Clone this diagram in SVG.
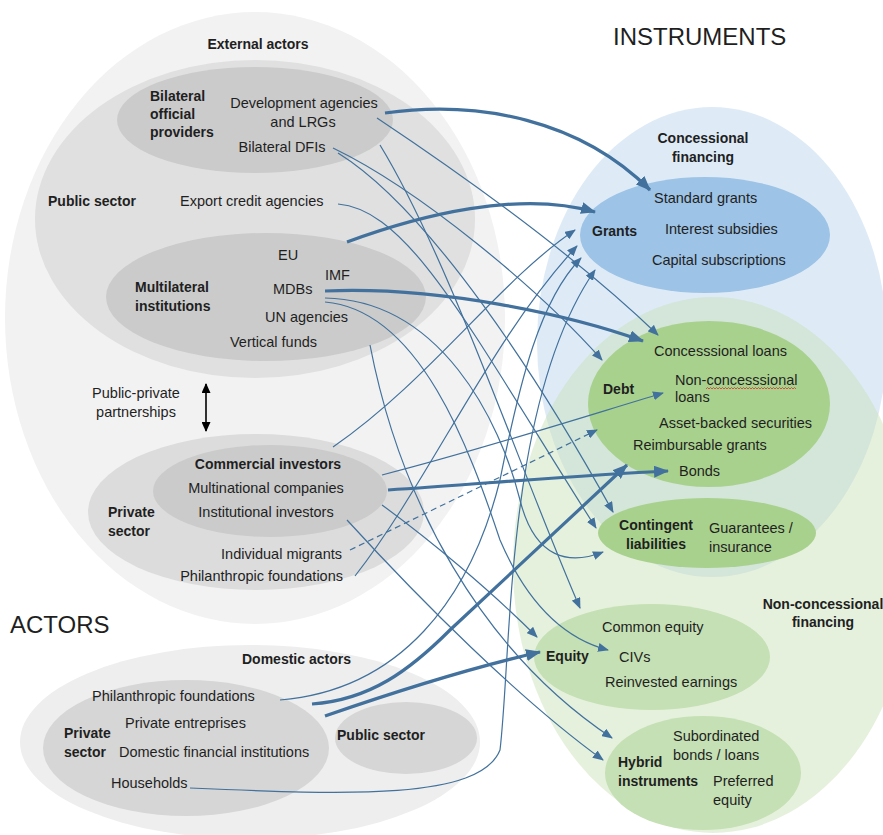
<svg xmlns="http://www.w3.org/2000/svg" width="883" height="835" viewBox="0 0 883 835">
<style>
text{font-family:"Liberation Sans",Arial,sans-serif;font-size:14.5px;fill:#1f1f1f}
.b{font-weight:bold;font-size:14px}
.m{text-anchor:middle}
.e{text-anchor:end}
.big{font-size:24px}
.c{fill:none;stroke:#41719c;stroke-width:1.2;marker-end:url(#a)}
.k{stroke-width:3.2;marker-end:url(#A)}
.d{stroke-dasharray:6 4}
</style>
<defs>
<marker id="a" markerUnits="userSpaceOnUse" markerWidth="11" markerHeight="9" refX="10" refY="4.5" orient="auto"><path d="M0,0 L11,4.5 L0,9 z" fill="#41719c"/></marker>
<marker id="A" markerUnits="userSpaceOnUse" markerWidth="15" markerHeight="12" refX="14" refY="6" orient="auto"><path d="M0,0 L15,6 L0,12 z" fill="#41719c"/></marker>
<marker id="bk" markerUnits="userSpaceOnUse" markerWidth="10" markerHeight="9" refX="9" refY="4.5" orient="auto-start-reverse"><path d="M0,0 L10,4.5 L0,9 z" fill="#000"/></marker>
</defs>
<rect width="883" height="835" fill="#fff"/>

<g id="external-actors">
<ellipse cx="255" cy="318" rx="250" ry="306" fill="#f2f2f2"/>
<text class="b m" x="258" y="49">External actors</text>
</g>
<g id="public-sector-ext">
<ellipse cx="255" cy="219" rx="220" ry="159" fill="#e0e0e0"/>
<text class="b" x="48" y="206">Public sector</text>
<text x="180" y="206">Export credit agencies</text>
</g>
<g id="bilateral">
<ellipse cx="255" cy="120" rx="138" ry="53" fill="#cbcbcb"/>
<text class="b" x="150" y="101">Bilateral</text>
<text class="b" x="150" y="119">official</text>
<text class="b" x="150" y="137">providers</text>
<text class="m" x="304" y="108">Development agencies</text>
<text class="m" x="303" y="127">and LRGs</text>
<text class="m" x="282" y="152">Bilateral DFIs</text>
</g>
<g id="multilateral">
<ellipse cx="266" cy="297" rx="160" ry="64" fill="#cbcbcb"/>
<text class="b" x="135" y="292">Multilateral</text>
<text class="b" x="135" y="311">institutions</text>
<text x="278" y="260">EU</text>
<text x="325" y="280">IMF</text>
<text x="273" y="294">MDBs</text>
<text x="265" y="322">UN agencies</text>
<text x="230" y="347">Vertical funds</text>
</g>
<g id="ppp">
<text class="m" x="136" y="398">Public-private</text>
<text class="m" x="136" y="417">partnerships</text>
<line x1="206" y1="384" x2="206" y2="431" stroke="#000" stroke-width="1.6" marker-start="url(#bk)" marker-end="url(#bk)"/>
</g>
<g id="private-sector-ext">
<ellipse cx="256" cy="512" rx="168" ry="78" fill="#dcdcdc"/>
<text class="b" x="108" y="517">Private</text>
<text class="b" x="108" y="536">sector</text>
<text class="e" x="342" y="559">Individual migrants</text>
<text class="e" x="343" y="581">Philanthropic foundations</text>
</g>
<g id="commercial-investors">
<ellipse cx="270" cy="491" rx="117" ry="46" fill="#cbcbcb"/>
<text class="b m" x="268" y="469">Commercial investors</text>
<text class="m" x="266" y="493">Multinational companies</text>
<text class="m" x="266" y="517">Institutional investors</text>
</g>
<g id="domestic-actors">
<ellipse cx="250" cy="742" rx="230" ry="97" fill="#eeeeee"/>
<text class="b" x="242" y="664">Domestic actors</text>
</g>
<g id="domestic-private">
<ellipse cx="186" cy="748" rx="143" ry="68" fill="#d6d6d6"/>
<text x="92" y="701">Philanthropic foundations</text>
<text x="125" y="728">Private entreprises</text>
<text class="b" x="64" y="738">Private</text>
<text class="b" x="64" y="757">sector</text>
<text x="119" y="757">Domestic financial institutions</text>
<text x="111" y="788">Households</text>
</g>
<g id="domestic-public">
<ellipse cx="406" cy="738" rx="71" ry="36" fill="#d6d6d6"/>
<text class="b" x="337" y="740">Public sector</text>
</g>

<g id="concessional">
<ellipse cx="712" cy="342" rx="175" ry="235" fill="#deebf7"/>
<text class="b m" x="703" y="143">Concessional</text>
<text class="b m" x="703" y="162">financing</text>
</g>
<g id="non-concessional">
<ellipse cx="713" cy="565" rx="200" ry="268" fill="#c5e0b4" fill-opacity="0.45"/>
<text class="b m" x="823" y="609">Non-concessional</text>
<text class="b m" x="823" y="627">financing</text>
</g>
<g id="grants">
<ellipse cx="705" cy="235" rx="125" ry="58" fill="#9dc3e6"/>
<text class="b" x="592" y="236">Grants</text>
<text x="654" y="203">Standard grants</text>
<text x="665" y="234">Interest subsidies</text>
<text x="652" y="265">Capital subscriptions</text>
</g>
<g id="debt">
<ellipse cx="709" cy="404" rx="121" ry="83" fill="#a9d18e"/>
<text class="b" x="603" y="394">Debt</text>
<text x="654" y="356">Concesssional loans</text>
<text x="675" y="385">Non-concesssional</text>
<path d="M706,389 l1.5,-1.5 l1.5,1.5 l1.5,-1.5 l1.5,1.5 l1.5,-1.5 l1.5,1.5 l1.5,-1.5 l1.5,1.5 l1.5,-1.5 l1.5,1.5 l1.5,-1.5 l1.5,1.5 l1.5,-1.5 l1.5,1.5 l1.5,-1.5 l1.5,1.5 l1.5,-1.5 l1.5,1.5 l1.5,-1.5 l1.5,1.5 l1.5,-1.5 l1.5,1.5 l1.5,-1.5 l1.5,1.5 l1.5,-1.5 l1.5,1.5 l1.5,-1.5 l1.5,1.5 l1.5,-1.5 l1.5,1.5 l1.5,-1.5 l1.5,1.5 l1.5,-1.5 l1.5,1.5 l1.5,-1.5 l1.5,1.5 l1.5,-1.5 l1.5,1.5 l1.5,-1.5 l1.5,1.5 l1.5,-1.5 l1.5,1.5 l1.5,-1.5 l1.5,1.5 l1.5,-1.5 l1.5,1.5 l1.5,-1.5 l1.5,1.5 l1.5,-1.5 l1.5,1.5 l1.5,-1.5 l1.5,1.5 l1.5,-1.5 l1.5,1.5 l1.5,-1.5 l1.5,1.5 l1.5,-1.5 l1.5,1.5 l1.5,-1.5 l1.5,1.5" fill="none" stroke="#e03030" stroke-width="0.8"/>
<text x="675" y="402">loans</text>
<text x="659" y="428">Asset-backed securities</text>
<text x="633" y="450">Reimbursable grants</text>
<text x="679" y="476">Bonds</text>
</g>
<g id="contingent">
<ellipse cx="707" cy="533" rx="109" ry="35" fill="#a9d18e"/>
<text class="b m" x="656" y="530">Contingent</text>
<text class="b m" x="656" y="549">liabilities</text>
<text x="709" y="533">Guarantees /</text>
<text x="709" y="552">insurance</text>
</g>
<g id="equity">
<ellipse cx="652" cy="657" rx="118" ry="53" fill="#c5e0b4"/>
<text class="b" x="546" y="661">Equity</text>
<text x="602" y="632">Common equity</text>
<text x="619" y="662">CIVs</text>
<text x="605" y="687">Reinvested earnings</text>
</g>
<g id="hybrid">
<ellipse cx="703" cy="773" rx="98" ry="57" fill="#c5e0b4"/>
<text class="b" x="618" y="767">Hybrid</text>
<text class="b" x="618" y="786">instruments</text>
<text x="673" y="741">Subordinated</text>
<text x="673" y="760">bonds / loans</text>
<text x="713" y="786">Preferred</text>
<text x="713" y="805">equity</text>
</g>

<g id="connectors">
<path class="c" d="M377,118 C470,180 580,260 658,335"/>
<path class="c" d="M333,148 C420,190 540,290 602,360"/>
<path class="c" d="M338,153 C430,210 540,380 613,512"/>
<path class="c" d="M380,145 C450,260 520,470 580,608"/>
<path class="c" d="M338,204 C410,210 470,330 596,528"/>
<path class="c" d="M325,298 C440,300 500,420 520,500 C535,560 570,565 603,552"/>
<path class="c" d="M325,302 C420,310 470,450 500,540 C530,610 570,640 608,650"/>
<path class="c" d="M370,345 C400,500 480,650 612,738"/>
<path class="c" d="M333,447 C430,380 500,280 575,230"/>
<path class="c" d="M382,475 C480,450 580,418 663,393"/>
<path class="c" d="M382,505 C430,540 490,590 537,637"/>
<path class="c" d="M347,520 C420,600 520,700 603,760"/>
<path class="c d" d="M350,550 L597,430"/>
<path class="c" d="M355,576 C430,480 490,340 577,246"/>
<path class="c" d="M280,700 C400,690 470,600 500,480 C520,380 540,300 581,258"/>
<path class="c" d="M190,788 C350,795 480,800 500,750 C512,650 505,400 595,270"/>
<path class="c k" d="M385,113 C480,100 580,120 650,190"/>
<path class="c k" d="M347,242 C420,215 520,190 595,212"/>
<path class="c k" d="M325,291 C440,286 570,315 643,341"/>
<path class="c k" d="M388,490 C480,484 580,475 668,471"/>
<path class="c k" d="M312,704 C370,700 410,670 450,630 L627,465"/>
<path class="c k" d="M325,716 C400,690 470,668 540,652"/>
</g>

<g id="titles">
<text class="big" x="613" y="45">INSTRUMENTS</text>
<text class="big" x="10" y="633">ACTORS</text>
</g>
</svg>
